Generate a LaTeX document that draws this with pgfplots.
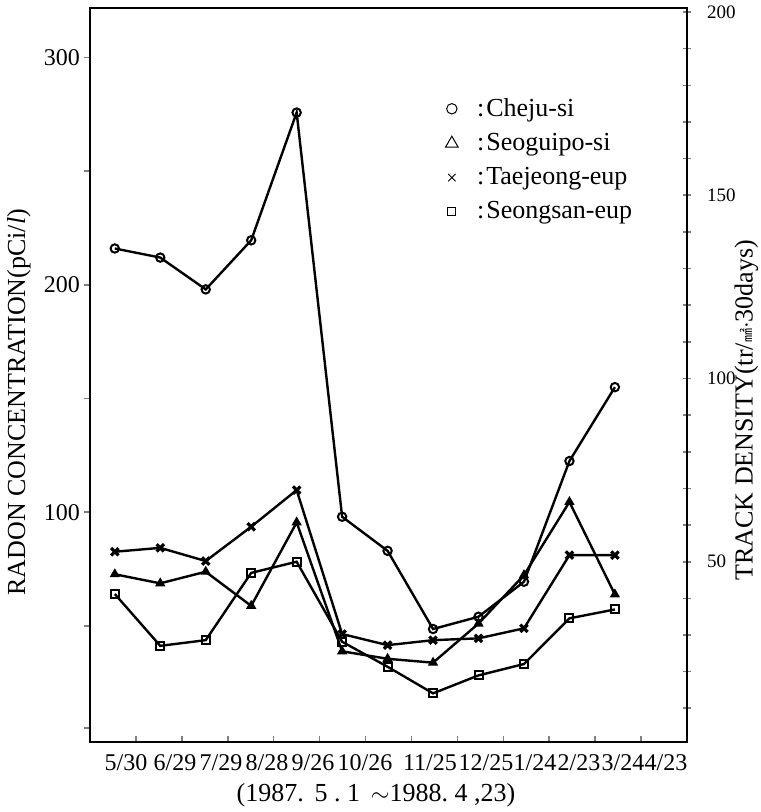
\documentclass[border=0pt]{standalone}
\usepackage{pgfplots}
\pgfplotsset{compat=1.18}
\usepackage{fontspec}
\setmainfont{Liberation Serif}
\newfontfamily\cjk{Noto Sans CJK JP}
\begin{document}
\begin{tikzpicture}
\path[use as bounding box] (-45pt,-35pt) rectangle (335pt,371pt);
\begin{axis}[
  at={(0pt,0pt)}, anchor=south west,
  scale only axis, width=298.5pt, height=367pt,
  xmin=0, xmax=13, ymin=-1.1, ymax=321.8,
  axis line style={line width=1pt},
  /pgf/number format/assume math mode=true,
  tick align=inside,
  major tick length=3pt, minor tick length=3pt,
  xtick pos=bottom, ytick pos=left,
  xtick={1,...,12}, xticklabels={},
  extra x ticks={0.784,1.851,2.853,3.855,4.856,5.989,7.404,8.623,9.690,10.649,11.607,12.544},
  extra x tick labels={5/30,6/29,7/29,8/28,9/26,10/26,11/25,12/25,1/24,2/23,3/24,4/23},
  extra x tick style={major tick length=0pt},
  xticklabel style={font=\fontsize{12}{12}\selectfont, anchor=base, yshift=-14pt},
  ytick={100,200,300},
  minor ytick={5,50,150,250},
  ytick style={xshift=-3pt, line width=0.8pt},
  xtick style={line width=0.8pt},
  yticklabel style={font=\fontsize{12}{12}\selectfont, xshift=-1.5pt},
  ylabel={RADON CONCENTRATION(pCi/\textit{l})},
  every axis y label/.style={at={(axis description cs:-0.119,0.463)}, rotate=90, anchor=center, font=\fontsize{13}{13}\selectfont},
  xlabel={(1987.\,\ 5\ .\ 1\ \,$\sim$1988.\ 4\ ,23)},
  every axis x label/.style={at={(axis description cs:0.479,-0.0722)}, anchor=center, font=\fontsize{13}{13}\selectfont},
  legend style={draw=none, fill=none, at={(0.595,0.883)}, anchor=north west, font=\fontsize{13}{13}\selectfont, row sep=3pt, inner sep=0pt},
  legend cell align=left,
]
% Cheju-si (circles)
\addplot[black, line width=1.2pt, mark=o, mark size=2.1pt, mark options={fill=white, line width=1pt}, forget plot] coordinates {
(0.54,216) (1.53,212) (2.52,198) (3.51,219.6) (4.50,275.8) (5.49,98) (6.48,83) (7.47,48.6) (8.46,54) (9.45,69.4) (10.44,122.5) (11.43,155)};
% Seoguipo-si (triangles)
\addplot[black, line width=1.2pt, mark=triangle*, mark size=2.4pt, mark options={fill=black, line width=0.6pt}, forget plot] coordinates {
(0.54,72.7) (1.53,68.7) (2.52,73.8) (3.51,58.8) (4.50,95.5) (5.49,38.8) (6.48,35.5) (7.47,33.8) (8.46,51) (9.45,72.3) (10.44,104.5) (11.43,63.8)};
% Taejeong-eup (crosses)
\addplot[black, line width=1.2pt, mark=x, mark size=2.6pt, mark options={line width=1.6pt}, forget plot] coordinates {
(0.54,82.6) (1.53,84.3) (2.52,78.5) (3.51,93.6) (4.50,109.7) (5.49,46.4) (6.48,41.5) (7.47,43.7) (8.46,44.5) (9.45,48.9) (10.44,81.1) (11.43,81.1)};
% Seongsan-eup (squares)
\addplot[black, line width=1.2pt, mark=square, mark size=2pt, mark options={fill=white, line width=1pt}, forget plot] coordinates {
(0.54,64) (1.53,41.2) (2.52,43.7) (3.51,73.3) (4.50,78.2) (5.49,43) (6.48,32) (7.47,20.3) (8.46,28.2) (9.45,33.2) (10.44,53.3) (11.43,57.2)};
\addlegendimage{only marks, mark=o, mark size=2.6pt, mark options={line width=0.5pt}}
\addlegendentry{\hspace{7.5pt}:\hspace{1pt}Cheju-si}
\addlegendimage{only marks, mark=triangle, mark size=3.6pt, mark options={line width=0.5pt}}
\addlegendentry{\hspace{7.5pt}:\hspace{1pt}Seoguipo-si}
\addlegendimage{only marks, mark=x, mark size=2.6pt, mark options={line width=0.5pt}}
\addlegendentry{\hspace{7.5pt}:\hspace{1pt}Taejeong-eup}
\addlegendimage{only marks, mark=square, mark size=2pt, mark options={line width=0.5pt}}
\addlegendentry{\hspace{7.5pt}:\hspace{1pt}Seongsan-eup}
\end{axis}
\begin{axis}[
  at={(0pt,0pt)}, anchor=south west,
  scale only axis, width=298.5pt, height=367pt,
  xmin=0, xmax=13, ymin=0.8, ymax=201.1,
  axis x line=none, axis y line*=right,
  axis line style={line width=1pt, -},
  /pgf/number format/assume math mode=true,
  tick align=center, major tick length=4pt, minor tick length=4pt,
  ytick={50,100,150,200},
  minor ytick={10,20,30,40,60,70,80,90,110,120,130,140,160,170,180,190},
  ytick style={line width=0.8pt},
  yticklabel style={font=\fontsize{9.5}{9.5}\selectfont, anchor=west, xshift=4.5pt},
  ylabel={TRACK DENSITY(tr/{\cjk\fontsize{7}{7}\selectfont ㎟}$\cdot$30days)},
  every axis y label/.style={at={(axis description cs:1.0995,0.452)}, rotate=90, anchor=center, font=\fontsize{13}{13}\selectfont},
]
\end{axis}
\end{tikzpicture}
\end{document}
